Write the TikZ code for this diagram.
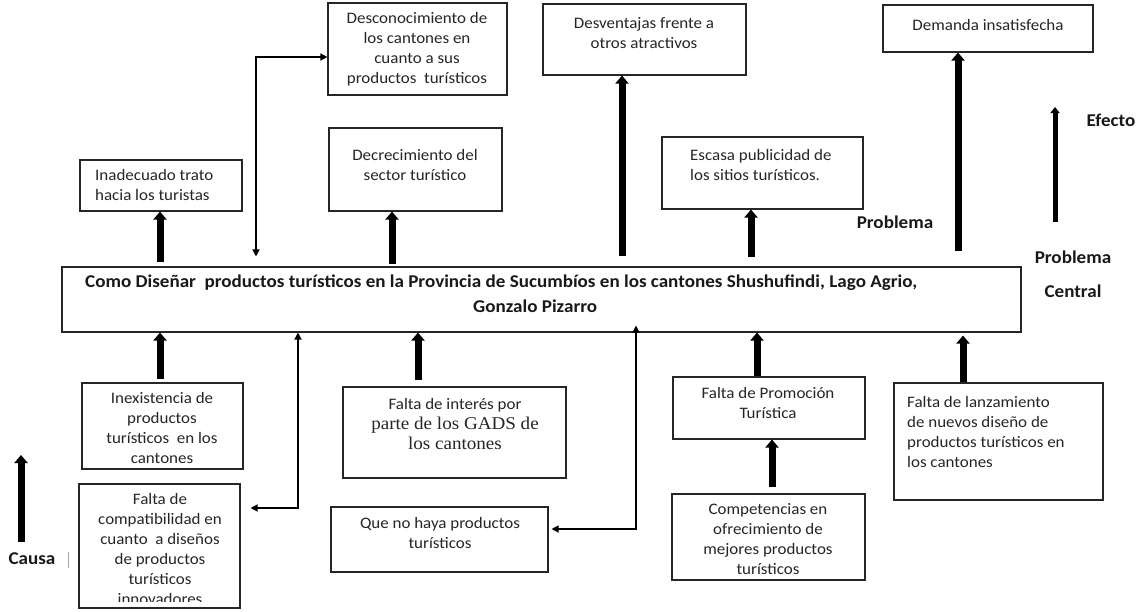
\documentclass[tikz,border=0pt]{standalone}
\usepackage{fontspec}
\setmainfont{Carlito}[FakeStretch=1.06]
\newfontfamily\gadsfont{Liberation Serif}[FakeStretch=1.06]
\usetikzlibrary{arrows.meta}
\tikzset{
  box/.style={draw=black!85, line width=1.1pt, fill=white, inner sep=0pt},
  txt/.style={inner sep=0pt, font=\fontsize{16}{20}\selectfont, text=black!85},
  lbl/.style={inner sep=0pt, font=\fontsize{18}{22}\selectfont\bfseries, text=black!90},
  fat/.style={line width=7pt, -{Triangle[width=13pt,length=8pt]}},
  legarrow/.style={line width=5pt, -{Triangle[width=9pt,length=6pt]}},
  thinarr/.style={line width=1.4pt, {Triangle[width=7pt,length=7pt]}-{Triangle[width=7pt,length=7pt]}}
}
\begin{document}
\begin{tikzpicture}[x=1pt,y=-1pt]
\useasboundingbox (0,0) rectangle (1143,611);
\fill[white] (0,0) rectangle (1143,611);
% boxes
\node[box, minimum width=179pt, minimum height=92pt] (desc) at (417.5,49) {};
\node[box, minimum width=162pt, minimum height=51pt] (inad) at (161,185.5) {};
\node[box, minimum width=173pt, minimum height=83pt] (decr) at (415.5,169.5) {};
\node[box, minimum width=203pt, minimum height=71pt] (desv) at (644.5,39.5) {};
\node[box, minimum width=201pt, minimum height=72pt] (esca) at (762.5,173) {};
\node[box, minimum width=210pt, minimum height=47pt] (dema) at (988,28.5) {};
\node[box, minimum width=959pt, minimum height=65pt] (cent) at (541.5,299.5) {};
\node[box, minimum width=161pt, minimum height=86pt] (inex) at (162.5,426) {};
\node[box, minimum width=161pt, minimum height=124pt] (comp) at (159.5,546) {};
\node[box, minimum width=223pt, minimum height=91pt] (inte) at (454.5,432.5) {};
\node[box, minimum width=217pt, minimum height=65pt] (queno) at (439.5,539.5) {};
\node[box, minimum width=192pt, minimum height=62pt] (prom) at (769,408) {};
\node[box, minimum width=193pt, minimum height=86pt] (compe) at (768.5,537) {};
\node[box, minimum width=209pt, minimum height=117pt] (lanz) at (998.5,441.5) {};
% texts
\node[txt, align=center] (tdesc) at (417,49) {Desconocimiento de\\los cantones en\\cuanto a sus\\productos\ \ turísticos};
\node[txt, align=left, anchor=west] (tinad) at (95,185) {Inadecuado trato\\hacia los turistas};
\node[txt, align=center] (tdecr) at (415,165) {Decrecimiento del\\sector turístico};
\node[txt, align=center] (tdesv) at (644,33) {Desventajas frente a\\otros atractivos};
\node[txt, align=left, anchor=west] (tesca) at (690,165) {Escasa publicidad de\\los sitios turísticos.};
\node[txt, align=center] (tdema) at (988,25) {Demanda insatisfecha};
\node[lbl, anchor=west] (tcent1) at (85,283) {Como Diseñar\ \ productos turísticos en la Provincia de Sucumbíos en los cantones Shushufindi, Lago Agrio,};
\node[lbl, anchor=west] (tcent2) at (473,306) {Gonzalo Pizarro};
\node[txt, align=center] (tinex) at (162,428) {Inexistencia de\\productos\\turísticos\ \ en los\\cantones};
\begin{scope}
\clip ([yshift=7pt]comp.south west) rectangle (comp.north east);
\node[txt, align=center] (tcomp) at (160,549) {Falta de\\compatibilidad en\\cuanto\ \ a diseños\\de productos\\turísticos\\innovadores};
\end{scope}
\node[txt, align=center] (tinte) at (455,424) {Falta de interés por\\{\gadsfont\fontsize{18}{22}\selectfont parte de los GADS de}\\{\gadsfont\fontsize{18}{22}\selectfont los cantones}};
\node[txt, align=center] (tqueno) at (440,533) {Que no haya productos\\turísticos};
\node[txt, align=center] (tprom) at (768,403) {Falta de Promoción\\Turística};
\node[txt, align=center] (tcompe) at (768,539) {Competencias en\\ofrecimiento de\\mejores productos\\turísticos};
\node[txt, align=left, anchor=west] (tlanz) at (907,432) {Falta de lanzamiento\\de nuevos diseño de\\productos turísticos en\\los cantones};
% legend labels
\node[lbl] (lefe) at (1111,120) {Efecto};
\node[lbl] (lprob) at (895,222) {Problema};
\node[lbl] (lpc1) at (1073,257) {Problema};
\node[lbl] (lpc2) at (1073,291) {Central};
\node[lbl] (lcau) at (32,559) {Causa};
\draw[black!35, line width=0.8pt] (68,552) -- (68,568);
% helper coordinates
\coordinate (x160) at (160,0);
\coordinate (x392) at (392,0);
\coordinate (x622) at (622,0);
\coordinate (x751) at (751,0);
\coordinate (x958) at (958,0);
\coordinate (x418) at (418,0);
\coordinate (x757) at (757,0);
\coordinate (x772) at (772,0);
\coordinate (x963) at (963,0);
\coordinate (c1) at (256,57);
\coordinate (c3) at (298,508);
\coordinate (c4) at (636,529);
\coordinate (e1) at (1055,222);
\coordinate (e2) at (1055,107);
\coordinate (k1) at (21,542);
\coordinate (k2) at (21,455);
% effect arrows
\draw[fat] ([yshift=4pt]cent.north -| x160) -- (inad.south -| x160);
\draw[fat] ([yshift=2pt]cent.north -| x392) -- (decr.south -| x392);
\draw[fat] ([yshift=10pt]cent.north -| x622) -- (desv.south -| x622);
\draw[fat] ([yshift=9pt]cent.north -| x751) -- (esca.south -| x751);
\draw[fat] ([yshift=15pt]cent.north -| x958) -- (dema.south -| x958);
\draw[thinarr] ([yshift=10pt]cent.north -| c1) |- ([yshift=-8pt]desc.west);
% cause arrows
\draw[fat] ([yshift=3pt]inex.north -| x160) -- (cent.south -| x160);
\draw[thinarr] ([xshift=10pt]comp.east |- c3) -| (cent.south -| c3);
\draw[fat] ([yshift=6pt]inte.north -| x418) -- (cent.south -| x418);
\draw[thinarr] ([xshift=3pt]queno.east |- c4) -| ([yshift=7pt]cent.south -| c4);
\draw[fat] (prom.north -| x757) -- (cent.south -| x757);
\draw[fat] ([yshift=6pt]compe.north -| x772) -- (prom.south -| x772);
\draw[fat] (lanz.north -| x963) -- ([yshift=-3pt]cent.south -| x963);
% legend arrows
\draw[legarrow] (e1) -- (e2);
\draw[fat] (k1) -- (k2);
\end{tikzpicture}
\end{document}
